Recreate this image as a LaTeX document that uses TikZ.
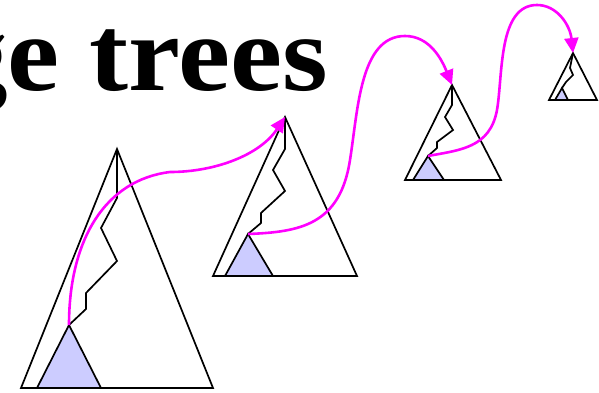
\documentclass[tikz,border=0pt]{standalone}
\usepackage{fontspec}
\setmainfont{Liberation Serif}
\usepackage{xcolor}
\usepackage{graphicx}
\usetikzlibrary{arrows.meta}

\definecolor{subfill}{RGB}{204,204,255}
\definecolor{hopcol}{RGB}{255,0,255}

\tikzset{
    tree/.style={draw=black, line width=1.7pt},
    subtree/.style={draw=black, fill=subfill, line width=1.7pt},
    spine/.style={draw=black, line width=1.7pt},
    hop/.style={draw=hopcol, line width=2.6pt, -{Triangle[length=15pt,width=14pt]}},
    title/.style={font=\bfseries\fontsize{108}{120}\selectfont, inner sep=0pt},
}

\begin{document}
\begin{tikzpicture}[x=1pt, y=-1pt]
    \useasboundingbox (0,0) rectangle (599,393);

    \node[title, anchor=base west] (head) at (-51,91) {\scalebox{1.085}[1]{ge trees}};

    % big tree
    \coordinate (r1) at (117,149);
    \coordinate (s1) at (69,325);
    \draw[tree] (r1) -- (213,388) -- (21,388) -- cycle;
    \draw[subtree] (s1) -- (101,388) -- (37,388) -- cycle;
    \draw[spine] (r1) -- (117,198) -- (101,228) -- (117,261) -- (86,293) -- (86,309) -- (s1);

    % second tree
    \coordinate (r2) at (285,117);
    \coordinate (s2) at (248,234);
    \draw[tree] (r2) -- (357,276) -- (213,276) -- cycle;
    \draw[subtree] (s2) -- (273,276) -- (225,276) -- cycle;
    \draw[spine] (r2) -- (285,149) -- (273,170) -- (285,191) -- (261,213) -- (261,223) -- (s2);

    % third tree
    \coordinate (r3) at (452,85);
    \coordinate (s3) at (428,156);
    \draw[tree] (r3) -- (501,180) -- (405,180) -- cycle;
    \draw[subtree] (s3) -- (444,180) -- (413,180) -- cycle;
    \draw[spine] (r3) -- (452,105) -- (445,117) -- (453,130) -- (437,142) -- (437,148) -- (s3);

    % fourth tree
    \coordinate (r4) at (573,53);
    \coordinate (s4) at (562,88);
    \draw[tree] (r4) -- (597,100) -- (549,100) -- cycle;
    \draw[subtree] (s4) -- (568,100) -- (555,100) -- cycle;
    \draw[spine] (r4) -- (570,68) -- (573,75) -- (566,82) -- (s4);

    % hops
    \draw[hop] (s1) .. controls (69,240) and (105,180) .. (170,172)
        .. controls (215,172) and (260,155) .. (r2);
    \draw[hop] (s2) .. controls (300,232) and (340,225) .. (350,160)
        .. controls (358,110) and (360,36) .. (405,36)
        .. controls (430,36) and (442,60) .. (r3);
    \draw[hop] (s3) .. controls (460,150) and (490,148) .. (497,110)
        .. controls (503,75) and (498,5) .. (537,5)
        .. controls (557,5) and (570,25) .. (r4);
\end{tikzpicture}
\end{document}
